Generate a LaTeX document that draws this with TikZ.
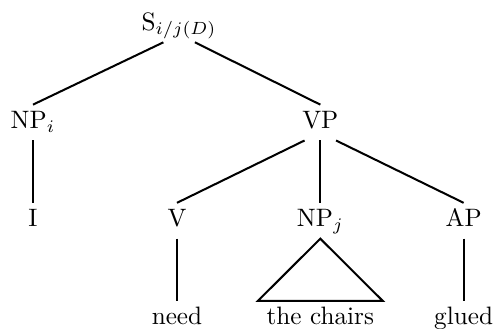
\documentclass[tikz,border=0pt]{standalone}
\usepackage{amsmath}
\usetikzlibrary{positioning}

\begin{document}
\begin{tikzpicture}[branch/.style={draw=black, line width=0.8pt}]
    % Styles for category labels and words
    \tikzstyle{cat} = [inner ysep=2.5pt, text height=1.55ex, text depth=.5ex]
    \tikzstyle{word} = [cat]

    \useasboundingbox (-2.5,0.42) rectangle (4.38,-4.17);

    % Nodes placement
    \node [cat, anchor=base] (S) at (0,0) {S$_{i/j(D)}$};
    \node [cat, below of=S, node distance=1.37cm, xshift=-2.04cm] (NPi) {NP$_i$};
    \node [cat, below of=S, node distance=1.37cm, xshift=1.97cm] (VP) {VP};
    \node [word, below of=NPi, node distance=1.37cm] (I) {I};
    \node [cat, below of=VP, node distance=1.37cm, xshift=-2.0cm] (V) {V};
    \node [cat, below of=VP, node distance=1.37cm] (NPj) {NP$_j$};
    \node [cat, below of=VP, node distance=1.37cm, xshift=2.0cm] (AP) {AP};
    \node [word, below of=V, node distance=1.37cm] (need) {need};
    \node [word, below of=NPj, node distance=1.37cm] (chairs) {the chairs};
    \node [word, below of=AP, node distance=1.37cm] (glued) {glued};

    % Draw branches
    \draw [branch] ([xshift=-2.2mm]S.south) -- (NPi.north);
    \draw [branch] ([xshift=2.2mm]S.south) -- (VP.north);
    \draw [branch] (NPi.south) -- (I.north);
    \draw [branch] ([xshift=-2.2mm]VP.south) -- (V.north);
    \draw [branch] (VP.south) -- (NPj.north);
    \draw [branch] ([xshift=2.2mm]VP.south) -- (AP.north);
    \draw [branch] (V.south) -- (need.north);
    \draw [branch] (AP.south) -- (glued.north);

    % Triangle over the unanalysed NP
    \draw [branch] (NPj.south) -- (chairs.north west) -- (chairs.north east) -- cycle;
\end{tikzpicture}
\end{document}
